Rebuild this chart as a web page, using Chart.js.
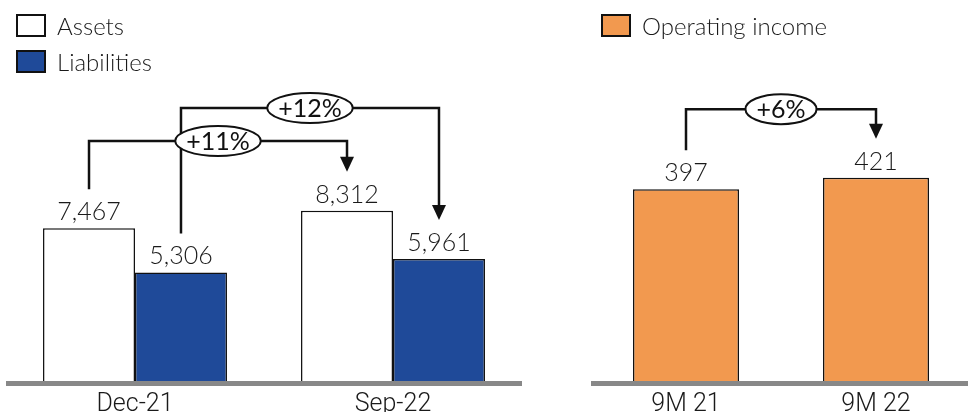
<!DOCTYPE html>
<html>
<head>
<meta charset="utf-8">
<script src="https://cdn.jsdelivr.net/npm/chart.js@4.4.0/dist/chart.umd.min.js"></script>
<style>
    html, body { margin: 0; padding: 0; background: #fff; overflow: hidden; width: 968px; height: 412px; }
    #wrap { position: relative; width: 968px; height: 412px; overflow: hidden; }
    canvas { position: absolute; top: 0; }
    #chartBilan { left: 0; }
    #chartResultat { left: 580px; }
    .item { position: absolute; display: flex; align-items: center; white-space: nowrap;
            font-family: Lato, sans-serif; font-weight: 300; font-size: 24px; color: #1a1a1a; }
    .box { width: 26px; height: 19px; border: 2px solid #111; margin-right: 11px; box-sizing: content-box; }
</style>
</head>
<body>
<div id="wrap">
    <canvas id="chartBilan" width="540" height="428"></canvas>
    <canvas id="chartResultat" width="391" height="428"></canvas>
</div>
<script>
// Balance sheet (left panel)
const bilanLabels = ['Dec-21', 'Sep-22'];
const assets = [7467, 8312];
const liabilities = [5306, 5961];
const bilanGrowth = ['+11%', '+12%'];

// Operating income (right panel)
const resultatLabels = ['9M 21', '9M 22'];
const operatingIncome = [397, 421];
const resultatGrowth = ['+6%'];

const INK = '#111111';
const BLUE = '#1F4A99';
const ORANGE = '#F2994F';
const GREY = '#888888';

const fmt = function (v) { return v.toLocaleString('en-US'); };

// grey baseline under the bars
const baselinePlugin = {
    id: 'baseline',
    afterDatasetsDraw(chart) {
        const a = chart.chartArea;
        const ctx = chart.ctx;
        ctx.save();
        ctx.fillStyle = GREY;
        ctx.fillRect(a.left, a.bottom, a.right - a.left, 5);
        ctx.restore();
    },
};

// value on top of every bar
const valuesPlugin = {
    id: 'values',
    afterDatasetsDraw(chart) {
        const ctx = chart.ctx;
        ctx.save();
        ctx.font = '300 25px Lato, sans-serif';
        ctx.fillStyle = '#1a1a1a';
        ctx.textAlign = 'center';
        ctx.textBaseline = 'middle';
        chart.data.datasets.forEach(function (ds, i) {
            chart.getDatasetMeta(i).data.forEach(function (bar, j) {
                ctx.fillText(fmt(ds.data[j]), bar.x, bar.y - 16);
            });
        });
        ctx.restore();
    },
};

// growth brackets with arrow and oval label
const bracketPlugin = {
    id: 'brackets',
    afterDatasetsDraw(chart, args, opts) {
        const ctx = chart.ctx;
        const yScale = chart.scales.y;
        const items = opts.items || [];
        const gap = 39;
        const geo = items.map(function (b) {
            const p0 = chart.getDatasetMeta(b.from[0]).data[b.from[1]];
            const p1 = chart.getDatasetMeta(b.to[0]).data[b.to[1]];
            return { b, x0: p0.x, y0: p0.y - gap, x1: p1.x, y1: p1.y - gap, lev: yScale.getPixelForValue(b.level) };
        });
        ctx.save();
        ctx.strokeStyle = INK;
        ctx.fillStyle = INK;
        ctx.lineWidth = 2.5;
        ctx.lineJoin = 'miter';
        geo.forEach(function (g) {
            ctx.beginPath();
            ctx.moveTo(g.x0, g.y0);
            ctx.lineTo(g.x0, g.lev);
            ctx.lineTo(g.x1, g.lev);
            ctx.lineTo(g.x1, g.y1 - 14);
            ctx.stroke();
            ctx.beginPath();
            ctx.moveTo(g.x1 - 7, g.y1 - 15);
            ctx.lineTo(g.x1 + 7, g.y1 - 15);
            ctx.lineTo(g.x1, g.y1);
            ctx.closePath();
            ctx.fill();
        });
        ctx.font = '400 25px Lato, sans-serif';
        ctx.textAlign = 'center';
        ctx.textBaseline = 'middle';
        geo.forEach(function (g) {
            const cx = (g.x0 + g.x1) / 2;
            const w = ctx.measureText(g.b.label).width;
            ctx.beginPath();
            ctx.ellipse(cx, g.lev, w / 2 + 11, 15, 0, 0, Math.PI * 2);
            ctx.fillStyle = '#ffffff';
            ctx.fill();
            ctx.lineWidth = 2;
            ctx.stroke();
            ctx.fillStyle = INK;
            ctx.fillText(g.b.label, cx, g.lev + 1);
        });
        ctx.restore();
    },
};

function axisOptions(yMax) {
    return {
        x: {
            grid: { display: false, drawTicks: false },
            border: { display: false },
            ticks: { color: '#1a1a1a', padding: 11, font: { family: 'Roboto', size: 25, weight: 300, lineHeight: 1 } },
        },
        y: { display: false, min: 0, max: yMax },
    };
}

function addLegend(chart, left) {
    const wrap = document.getElementById('wrap');
    chart.data.datasets.forEach(function (ds, i) {
        const item = document.createElement('div');
        item.className = 'item';
        item.style.left = left + 'px';
        item.style.top = (11 + i * 36) + 'px';
        item.innerHTML = '<span class="box" style="background:' + ds.backgroundColor + '"></span>' + ds.label;
        wrap.appendChild(item);
    });
}

function initBilanChart() {
    const chart = new Chart(document.getElementById('chartBilan'), {
        type: 'bar',
        data: {
            labels: bilanLabels,
            datasets: [
                { label: 'Assets', data: assets, backgroundColor: '#FFFFFF', borderColor: INK, borderWidth: 1.5,
                  categoryPercentage: 0.713, barPercentage: 1 },
                { label: 'Liabilities', data: liabilities, backgroundColor: BLUE, borderColor: INK, borderWidth: 1.5,
                  categoryPercentage: 0.713, barPercentage: 1 },
            ],
        },
        options: {
            responsive: false,
            animation: false,
            devicePixelRatio: 1,
            layout: { padding: { left: 6, right: 18, top: 0, bottom: 0 } },
            plugins: {
                legend: { display: false },
                tooltip: { enabled: false },
                brackets: {
                    items: [
                        { from: [0, 0], to: [0, 1], level: 11725, label: bilanGrowth[0] },
                        { from: [1, 0], to: [1, 1], level: 13337, label: bilanGrowth[1] },
                    ],
                },
            },
            scales: axisOptions(18613),
        },
        plugins: [baselinePlugin, valuesPlugin, bracketPlugin],
    });
    addLegend(chart, 16);
}

function initResultatChart() {
    const chart = new Chart(document.getElementById('chartResultat'), {
        type: 'bar',
        data: {
            labels: resultatLabels,
            datasets: [
                { label: 'Operating income', data: operatingIncome, backgroundColor: ORANGE, borderColor: INK, borderWidth: 1.5,
                  categoryPercentage: 0.558, barPercentage: 1 },
            ],
        },
        options: {
            responsive: false,
            animation: false,
            devicePixelRatio: 1,
            layout: { padding: { left: 11, right: 0, top: 0, bottom: 0 } },
            plugins: {
                legend: { display: false },
                tooltip: { enabled: false },
                brackets: {
                    items: [
                        { from: [0, 0], to: [0, 1], level: 563, label: resultatGrowth[0] },
                    ],
                },
            },
            scales: axisOptions(789),
        },
        plugins: [baselinePlugin, valuesPlugin, bracketPlugin],
    });
    addLegend(chart, 601);
}

initBilanChart();
initResultatChart();
</script>
</body>
</html>
